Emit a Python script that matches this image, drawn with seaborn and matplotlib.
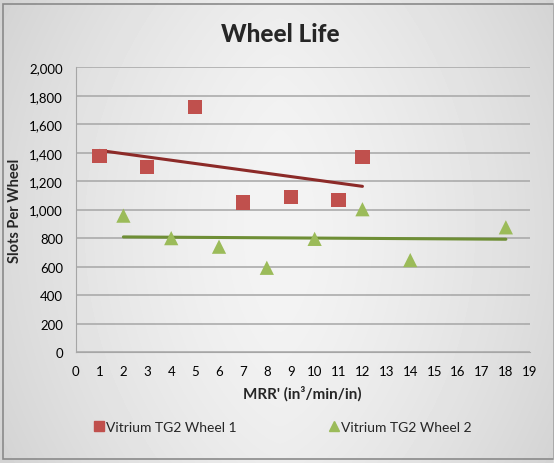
"""
Wheel Life scatter chart with linear trendlines
"""
import numpy as np
import pandas as pd
import matplotlib
matplotlib.use('Agg')
import matplotlib.pyplot as plt
import seaborn as sns
from matplotlib.lines import Line2D
from matplotlib.patches import Rectangle

# --- data ---
series_names = ['Vitrium TG2 Wheel 1', 'Vitrium TG2 Wheel 2']
wheel1_mrr = [1, 3, 5, 7, 9, 11, 12]
wheel1_slots = [1375, 1300, 1720, 1050, 1088, 1070, 1368]
wheel2_mrr = [2, 4, 6, 8, 10, 12, 14, 18]
wheel2_slots = [958, 800, 740, 592, 795, 1003, 646, 876]

x_ticks = list(range(0, 20))
y_ticks = list(range(0, 2001, 200))

sns.set_style("white")
plt.rcParams['font.family'] = ['Lato', 'DejaVu Sans']

point_colors = {series_names[0]: '#C0504D', series_names[1]: '#9BBB59'}
trend_colors = {series_names[0]: '#8C2A28', series_names[1]: '#6E8E35'}
markers = {series_names[0]: 's', series_names[1]: '^'}

df = pd.concat([
    pd.DataFrame({'MRR': wheel1_mrr, 'Slots': wheel1_slots, 'Series': series_names[0]}),
    pd.DataFrame({'MRR': wheel2_mrr, 'Slots': wheel2_slots, 'Series': series_names[1]}),
], ignore_index=True)

fig = plt.figure(figsize=(5.6, 4.64), dpi=100)
fig.patch.set_facecolor('white')

# gradient background behind everything
bg = fig.add_axes([0, 0, 1, 1], zorder=-10)
xx = np.linspace(-1, 1, 560)
yy = np.linspace(-1, 1, 464)
X, Y = np.meshgrid(xx, yy)
shade = 0.955 - 0.10 * (np.abs(X) ** 1.4) - 0.03 * (Y ** 2)
bg.imshow(shade, cmap='gray', vmin=0, vmax=1, aspect='auto',
          extent=[0, 1, 0, 1], interpolation='bilinear')
bg.add_patch(Rectangle((0.005, 0.008), 0.985, 0.982, transform=bg.transAxes,
                       fill=False, edgecolor='#8A8A8A', linewidth=1.2))
bg.set_xlim(0, 1)
bg.set_ylim(0, 1)
bg.axis('off')
# white outside the frame
bg.add_patch(Rectangle((0.99, 0), 0.02, 1, transform=bg.transAxes, color='white', zorder=5))

ax = fig.add_axes([0.135, 0.239, 0.811, 0.614])
ax.patch.set_alpha(0)

for name in series_names:
    sub = df[df['Series'] == name]
    sns.regplot(data=sub, x='MRR', y='Slots', scatter=False, ci=None, truncate=True,
                line_kws={'color': trend_colors[name], 'linewidth': 2.2, 'zorder': 2}, ax=ax)

sns.scatterplot(data=df, x='MRR', y='Slots', hue='Series', style='Series',
                palette=point_colors, markers=markers, s=105, linewidth=0,
                legend=False, zorder=3, ax=ax)

ax.set_xlim(0, 19)
ax.set_ylim(0, 2000)
ax.set_xticks(x_ticks)
ax.set_yticks(y_ticks)
ax.set_yticklabels([f'{v:,}' for v in y_ticks])
ax.yaxis.grid(True, color='#A6A6A6', linewidth=1.1)
ax.set_axisbelow(True)
for side in ['top', 'right']:
    ax.spines[side].set_visible(False)
ax.spines['left'].set_color('#A6A6A6')
ax.spines['bottom'].set_color('#A6A6A6')
ax.tick_params(axis='both', colors='#A6A6A6', labelcolor='black', labelsize=9.5,
               length=5, width=1, direction='out')
ax.tick_params(axis='x', pad=4)
ax.tick_params(axis='y', pad=4)

ax.set_xlabel("MRR' (in³/min/in)", fontsize=11, fontweight='bold', labelpad=6)
ax.set_ylabel('Slots Per Wheel', fontsize=10.5, fontweight='bold', labelpad=5)

fig.text(0.5, 0.925, 'Wheel Life', ha='center', va='center',
         fontsize=17.5, fontweight='black')

handles = [Line2D([], [], marker=markers[n], color=point_colors[n], linestyle='none',
                  markersize=6.5) for n in series_names]
fig.legend(handles, series_names, loc='center', bbox_to_anchor=(0.505, 0.078),
           ncol=2, frameon=False, fontsize=10, handletextpad=0.1,
           columnspacing=6.6, handlelength=0.8)

plt.savefig('out.png', dpi=100)
